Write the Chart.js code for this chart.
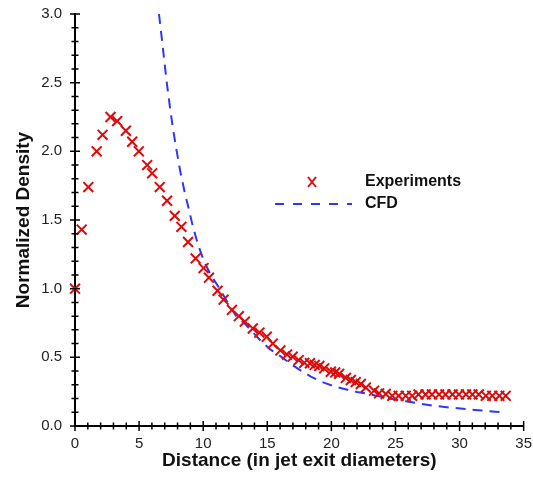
<!DOCTYPE html>
<html>
  <head>
    <meta charset="utf-8">
    <title>Normalized Density</title>
    <script src="https://cdn.jsdelivr.net/npm/chart.js"></script>
    <style>
      body { margin: 0; background: #fff; }
    </style>
  </head>
  <body>
    <canvas id="myChart" width="533" height="478"></canvas>
    <script>
      // Experiments
      const expX = [0, 0.52, 1.04, 1.69, 2.15, 2.77, 3.29, 3.97, 4.46, 4.98, 5.63, 6.02, 6.61, 7.18, 7.78, 8.3, 8.82,
        9.41, 10.03, 10.45, 11.12, 11.59, 12.24, 12.78, 13.25, 13.87, 14.39, 14.96, 15.43, 16.02, 16.54, 16.98, 17.45,
        17.89, 18.33, 18.7, 19.06, 19.44, 19.96, 20.3, 20.61, 21.13, 21.52, 21.9, 22.3, 22.69, 23.33, 23.72, 24.24,
        24.75, 25.25, 25.8, 26.3, 26.8, 27.35, 27.85, 28.4, 28.9, 29.45, 29.95, 30.5, 31.0, 31.5, 32.05, 32.55, 33.1, 33.6];
      const expY = [1.0, 1.43, 1.74, 2.0, 2.12, 2.25, 2.22, 2.15, 2.07, 2.0, 1.9, 1.84, 1.74, 1.64, 1.53, 1.45, 1.34,
        1.22, 1.15, 1.08, 0.985, 0.92, 0.845, 0.8, 0.76, 0.71, 0.68, 0.65, 0.6, 0.55, 0.52, 0.505, 0.48,
        0.46, 0.457, 0.445, 0.437, 0.42, 0.395, 0.39, 0.38, 0.35, 0.335, 0.32, 0.306, 0.28, 0.257, 0.238, 0.233,
        0.22, 0.22, 0.22, 0.22, 0.23, 0.23, 0.23, 0.23, 0.23, 0.23, 0.23, 0.23, 0.23, 0.23, 0.22, 0.22, 0.22, 0.22];

      // CFD curve
      const cfdX = [6.55, 6.8, 7.0, 7.2, 7.44, 7.65, 7.9, 8.2, 8.56, 8.9, 9.2, 9.6, 10.1, 10.6, 11.28, 11.9, 12.57,
        13.35, 14.39, 15.2, 16.07, 16.8, 17.5, 18.4, 19.3, 20.2, 21.1, 22.0, 22.9, 24.5, 25.8, 27.9, 29.4, 31.2, 32.8, 33.3];
      const cfdY = [3.0, 2.8, 2.63, 2.47, 2.3, 2.16, 2.02, 1.86, 1.7, 1.57, 1.45, 1.32, 1.19, 1.1, 1.0, 0.9, 0.8,
        0.735, 0.63, 0.56, 0.505, 0.455, 0.41, 0.36, 0.32, 0.29, 0.267, 0.248, 0.233, 0.2, 0.18, 0.148, 0.133, 0.117, 0.104, 0.1];

      const xTicks = [0, 5, 10, 15, 20, 25, 30, 35];
      const yTicks = [0, 0.5, 1.0, 1.5, 2.0, 2.5, 3.0];

      const red = 'rgb(220,10,10)';
      const blue = 'rgb(45,55,245)';
      const font = 'Arial, "Liberation Sans", sans-serif';

      // minor/major ticks crossing the axes
      const tickMarks = {
        id: 'tickMarks',
        afterDraw(chart) {
          const ctx = chart.ctx;
          const xs = chart.scales.x, ys = chart.scales.y;
          const x0 = xs.left, y0 = ys.bottom;
          ctx.save();
          ctx.strokeStyle = '#000';
          ctx.lineWidth = 1.5;
          ctx.beginPath();
          for (let v = 0; v <= 35; v++) {
            const px = xs.getPixelForValue(v);
            const len = v % 5 === 0 ? 5 : 3.5;
            ctx.moveTo(px, y0 - len);
            ctx.lineTo(px, y0 + len);
          }
          for (let i = 0; i <= 30; i++) {
            const py = ys.getPixelForValue(i / 10);
            const len = i % 5 === 0 ? 5 : 3.5;
            ctx.moveTo(x0 - len, py);
            ctx.lineTo(x0 + len, py);
          }
          ctx.stroke();
          ctx.restore();
        }
      };

      // legend drawn inside the plot
      const innerLegend = {
        id: 'innerLegend',
        afterDraw(chart) {
          const ctx = chart.ctx;
          ctx.save();
          ctx.strokeStyle = red;
          ctx.lineWidth = 2;
          ctx.beginPath();
          ctx.moveTo(308, 177); ctx.lineTo(316, 187);
          ctx.moveTo(316, 177); ctx.lineTo(308, 187);
          ctx.stroke();
          ctx.strokeStyle = blue;
          ctx.setLineDash([9, 9]);
          ctx.beginPath();
          ctx.moveTo(275, 204); ctx.lineTo(352, 204);
          ctx.stroke();
          ctx.setLineDash([]);
          ctx.fillStyle = '#111';
          ctx.font = 'bold 16px ' + font;
          ctx.textBaseline = 'middle';
          ctx.fillText('Experiments', 365, 182);
          ctx.fillText('CFD', 365, 204);
          ctx.restore();
        }
      };

      const data = {
        datasets: [
          {
            label: 'Experiments',
            data: expX.map((x, i) => ({x: x, y: expY[i]})),
            showLine: false,
            clip: false,
            pointStyle: 'crossRot',
            pointRadius: 7,
            pointBorderWidth: 2,
            borderColor: red,
            backgroundColor: red
          },
          {
            label: 'CFD',
            data: cfdX.map((x, i) => ({x: x, y: cfdY[i]})),
            showLine: true,
            pointRadius: 0,
            borderColor: blue,
            borderWidth: 2,
            borderDash: [10, 7],
            tension: 0
          }
        ]
      };

      const options = {
        responsive: false,
        animation: false,
        layout: { padding: { top: 10, right: 0, left: 12, bottom: 0 } },
        plugins: { legend: { display: false }, tooltip: { enabled: false } },
        scales: {
          x: {
            type: 'linear',
            min: 0, max: 35,
            afterBuildTicks: (s) => { s.ticks = xTicks.map(v => ({value: v})); },
            afterFit: (s) => { s.height = 52; },
            grid: { display: false },
            border: { display: true, color: '#000', width: 2 },
            ticks: { padding: 1, color: '#222', font: { family: font, size: 15 }, maxRotation: 0 },
            title: { display: true, text: 'Distance (in jet exit diameters)', color: '#111',
              font: { family: font, size: 19, weight: 'bold' }, padding: { top: 0, bottom: 6 } }
          },
          y: {
            type: 'linear',
            min: 0, max: 3.0,
            afterBuildTicks: (s) => { s.ticks = yTicks.map(v => ({value: v})); },
            afterFit: (s) => { s.width = 63; },
            grid: { display: false },
            border: { display: true, color: '#000', width: 2 },
            ticks: { padding: 5, color: '#222', font: { family: font, size: 15 },
              callback: (v) => Number(v).toFixed(1) },
            title: { display: true, text: 'Normalized Density', color: '#111',
              font: { family: font, size: 19, weight: 'bold' }, padding: { top: 0, bottom: 0 } }
          }
        }
      };

      new Chart(document.getElementById('myChart').getContext('2d'), {
        type: 'scatter',
        data: data,
        options: options,
        plugins: [tickMarks, innerLegend]
      });
    </script>
  </body>
</html>
